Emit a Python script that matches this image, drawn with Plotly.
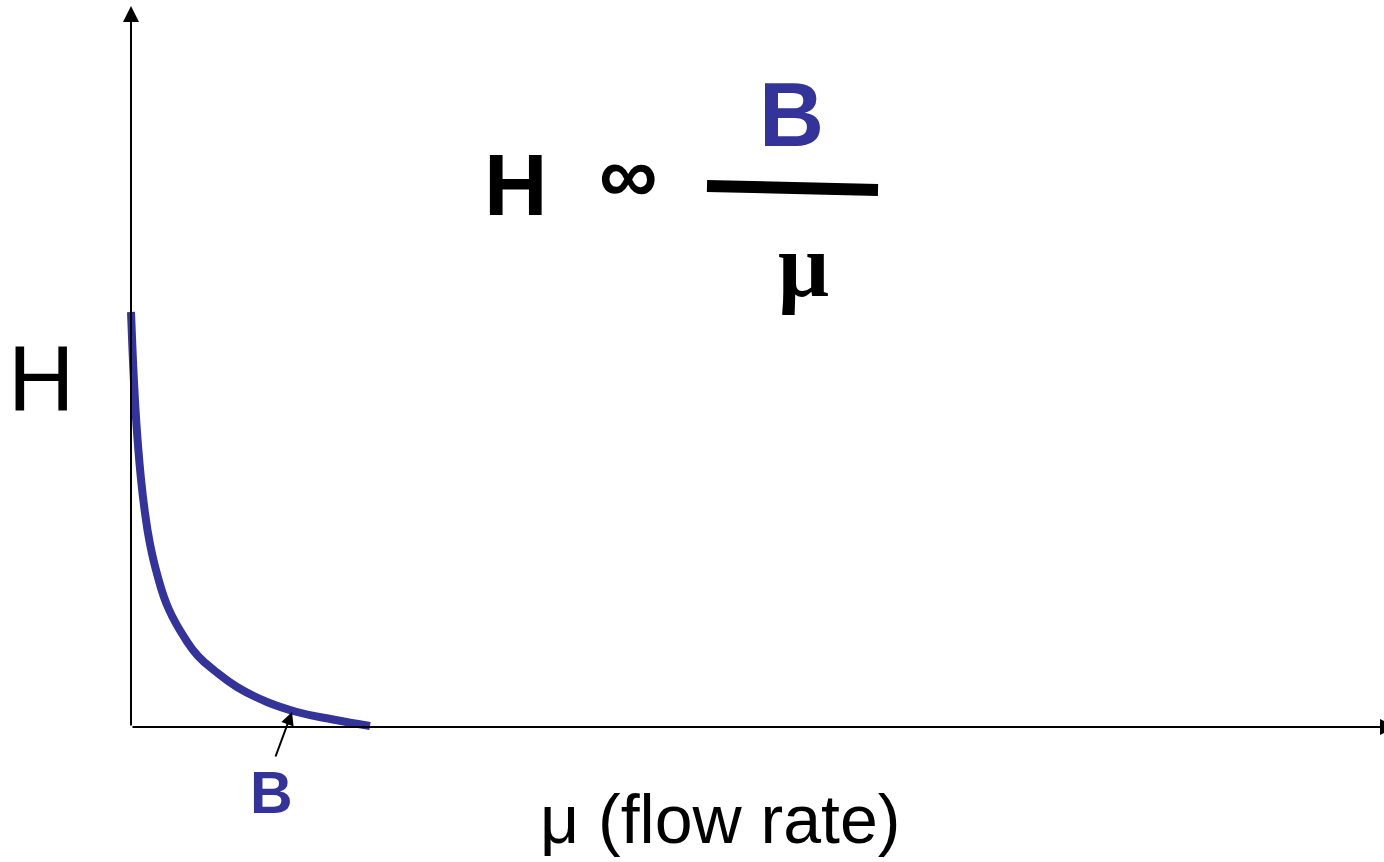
import plotly.graph_objects as go

# Curve (arbitrary units: 1 unit ~ 100 px)
flow_rate = [0.0, 0.013, 0.028, 0.046, 0.069, 0.098, 0.136, 0.188, 0.266, 0.377,
             0.55, 0.67, 0.84, 1.06, 1.36, 1.66, 2.02, 2.39]
head = [4.15, 3.82, 3.49, 3.16, 2.83, 2.50, 2.17, 1.84, 1.51, 1.18,
        0.87, 0.71, 0.56, 0.40, 0.25, 0.15, 0.075, 0.01]

BLUE = "#333399"
SANS = "Liberation Sans, Arial, sans-serif"
SERIF = "Liberation Serif, Times New Roman, serif"

fig = go.Figure()
fig.add_trace(go.Scatter(
    x=flow_rate, y=head, mode="lines",
    line=dict(color=BLUE, width=8, shape="spline", smoothing=1.3),
    hoverinfo="skip", cliponaxis=False,
))

annotations = [
    # x axis arrow
    dict(x=12.65, y=0, ax=0, ay=0, xref="x", yref="y", axref="x", ayref="y",
         text="", showarrow=True, arrowhead=2, arrowsize=1.6, arrowwidth=2, arrowcolor="black"),
    # y axis arrow
    dict(x=0, y=7.21, ax=0, ay=0, xref="x", yref="y", axref="x", ayref="y",
         text="", showarrow=True, arrowhead=2, arrowsize=1.6, arrowwidth=2, arrowcolor="black"),
    # B pointer arrow
    dict(x=1.61, y=0.15, ax=1.44, ay=-0.31, xref="x", yref="y", axref="x", ayref="y",
         text="", showarrow=True, arrowhead=2, arrowsize=1.3, arrowwidth=2, arrowcolor="black"),
    # labels
    dict(x=-0.90, y=3.48, xref="x", yref="y", text="H", showarrow=False,
         font=dict(family=SANS, size=92, color="black"), xanchor="center", yanchor="middle"),
    dict(x=1.40, y=-0.66, xref="x", yref="y", text="<b>B</b>", showarrow=False,
         font=dict(family=SANS, size=59, color=BLUE), xanchor="center", yanchor="middle"),
    dict(x=5.89, y=-0.92, xref="x", yref="y", text="μ (flow rate)", showarrow=False,
         font=dict(family=SANS, size=68, color="black"), xanchor="center", yanchor="middle"),
    # equation
    dict(x=3.85, y=5.43, xref="x", yref="y", text="<b>H</b>", showarrow=False,
         font=dict(family=SANS, size=88, color="black"), xanchor="center", yanchor="middle"),
    dict(x=4.97, y=5.53, xref="x", yref="y", text="<b>∞</b>", showarrow=False,
         font=dict(family=SANS, size=82, color="black"), xanchor="center", yanchor="middle"),
    dict(x=6.60, y=6.12, xref="x", yref="y", text="<b>B</b>", showarrow=False,
         font=dict(family=SANS, size=90, color=BLUE), xanchor="center", yanchor="middle"),
    dict(x=6.72, y=4.62, xref="x", yref="y", text="<b>μ</b>", showarrow=False,
         font=dict(family=SERIF, size=90, color="black"), xanchor="center", yanchor="middle"),
]

shapes = [
    # fraction bar
    dict(type="line", x0=5.76, y0=5.41, x1=7.47, y1=5.37, xref="x", yref="y",
         line=dict(color="black", width=12)),
]

fig.update_layout(
    width=1384, height=862,
    margin=dict(l=0, r=0, t=0, b=0),
    paper_bgcolor="white", plot_bgcolor="white",
    showlegend=False,
    xaxis=dict(range=[-1.31, 12.53], visible=False, fixedrange=True),
    yaxis=dict(range=[-1.35, 7.27], visible=False, fixedrange=True),
    annotations=annotations,
    shapes=shapes,
)

fig.write_html(
    "out.html",
    config=dict(displayModeBar=False),
    post_script="document.body.style.margin='0';document.body.style.overflow='hidden';",
)
